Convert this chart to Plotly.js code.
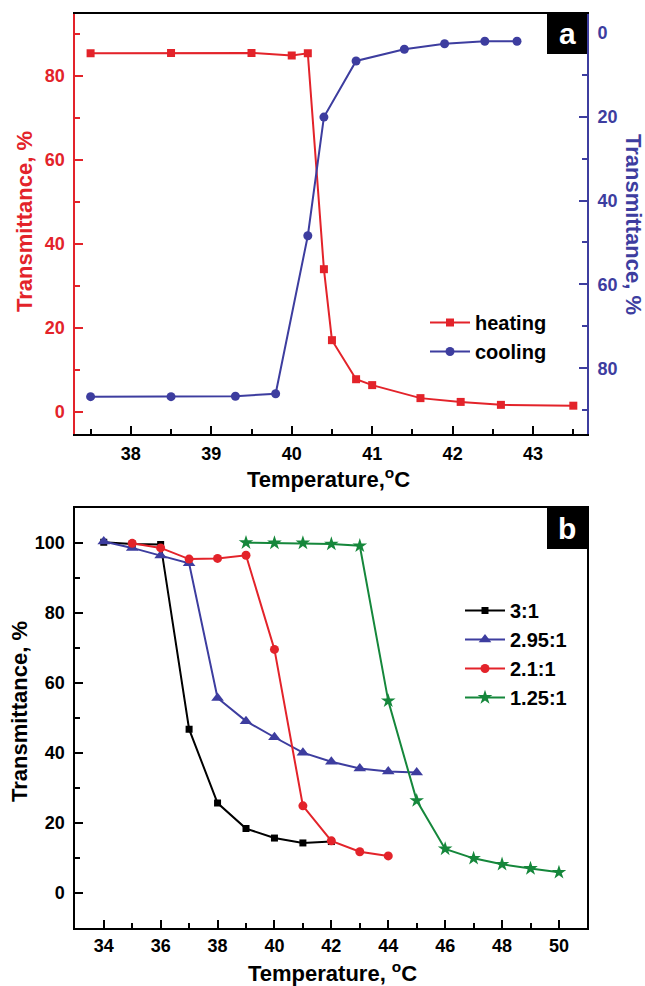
<!DOCTYPE html>
<html>
<head>
<meta charset="utf-8">
<script src="https://cdn.plot.ly/plotly-3.0.1.min.js"></script>
<style>html,body{margin:0;padding:0;background:#fff;}#chart{width:645px;height:986px;}</style>
</head>
<body>
<div id="chart"></div>
<script>
// ---- Panel a data ----
const heatTemp = [37.5, 38.5, 39.5, 40.0, 40.2, 40.4, 40.5, 40.8, 41.0, 41.6, 42.1, 42.6, 43.5];
const heatTrans = [85.4, 85.5, 85.5, 84.9, 85.4, 34.0, 17.1, 7.8, 6.4, 3.3, 2.4, 1.7, 1.5];
const coolTemp = [37.5, 38.5, 39.3, 39.8, 40.2, 40.4, 40.8, 41.4, 41.9, 42.4, 42.8];
const coolTrans = [86.8, 86.8, 86.7, 86.1, 48.4, 20.1, 6.7, 3.9, 2.6, 2.0, 2.0];

// ---- Panel b data ----
const temp31 = [34, 35, 36, 37, 38, 39, 40, 41, 42];
const trans31 = [100.2, 99.7, 99.6, 46.8, 25.7, 18.4, 15.7, 14.3, 14.7];
const temp295 = [34, 35, 36, 37, 38, 39, 40, 41, 42, 43, 44, 45];
const trans295 = [100.4, 98.6, 96.4, 94.2, 55.7, 49.1, 44.5, 40.1, 37.5, 35.6, 34.7, 34.4];
const temp21 = [35, 36, 37, 38, 39, 40, 41, 42, 43, 44];
const trans21 = [99.9, 98.6, 95.4, 95.6, 96.5, 69.6, 24.9, 14.9, 11.8, 10.6];
const temp125 = [39, 40, 41, 42, 43, 44, 45, 46, 47, 48, 49, 50];
const trans125 = [100.1, 100.0, 100.0, 99.7, 99.2, 54.9, 26.4, 12.6, 9.9, 8.2, 7.0, 5.9];

const seriesNamesA = ['heating', 'cooling'];
const seriesNamesB = ['3:1', '2.95:1', '2.1:1', '1.25:1'];

const RED = '#e3232a', BLUE = '#3d3d9f', GREEN = '#15873b', BLACK = '#000000';
const FONT = 'Liberation Sans, Arial, Helvetica, sans-serif';
const W = 645, H = 986;
const px = v => v / W;
const py = v => 1 - v / H;

const traces = [
  {x: heatTemp, y: heatTrans, name: seriesNamesA[0], xaxis: 'x', yaxis: 'y', legend: 'legend',
   mode: 'lines+markers', line: {color: RED, width: 2}, marker: {symbol: 'square', size: 8, color: RED}},
  {x: coolTemp, y: coolTrans, name: seriesNamesA[1], xaxis: 'x', yaxis: 'y2', legend: 'legend',
   mode: 'lines+markers', line: {color: BLUE, width: 2}, marker: {symbol: 'circle', size: 9, color: BLUE}},
  {x: temp31, y: trans31, name: seriesNamesB[0], xaxis: 'x2', yaxis: 'y3', legend: 'legend2',
   mode: 'lines+markers', line: {color: BLACK, width: 2}, marker: {symbol: 'square', size: 7, color: BLACK}},
  {x: temp295, y: trans295, name: seriesNamesB[1], xaxis: 'x2', yaxis: 'y3', legend: 'legend2',
   mode: 'lines+markers', line: {color: BLUE, width: 2}, marker: {symbol: 'triangle-up', size: 11, color: BLUE}},
  {x: temp21, y: trans21, name: seriesNamesB[2], xaxis: 'x2', yaxis: 'y3', legend: 'legend2',
   mode: 'lines+markers', line: {color: RED, width: 2}, marker: {symbol: 'circle', size: 9, color: RED}},
  {x: temp125, y: trans125, name: seriesNamesB[3], xaxis: 'x2', yaxis: 'y3', legend: 'legend2',
   mode: 'lines+markers', line: {color: GREEN, width: 2}, marker: {symbol: 'star', size: 11, color: GREEN}}
];

const tickFont = c => ({family: FONT, size: 18, color: c, weight: 700});
const baseAxis = {
  showgrid: false, zeroline: false, showline: true, linewidth: 2,
  ticks: 'inside', ticklen: 8, tickwidth: 2, fixedrange: true
};

const layout = {
  width: W, height: H,
  margin: {l: 0, r: 0, t: 0, b: 0},
  paper_bgcolor: '#fff', plot_bgcolor: '#fff',
  font: {family: FONT},
  showlegend: true,
  xaxis: Object.assign({}, baseAxis, {
    domain: [px(75.3), px(587)], anchor: 'y', range: [37.31, 43.67],
    tick0: 38, dtick: 1, linecolor: BLACK, tickcolor: BLACK, mirror: true,
    minor: {dtick: 0.5, ticks: 'inside', ticklen: 5, tickwidth: 2, tickcolor: BLACK},
    tickfont: tickFont(BLACK), ticklabelstandoff: 2
  }),
  yaxis: Object.assign({}, baseAxis, {
    domain: [py(434), py(14)], anchor: 'x', range: [-5.24, 94.76],
    tick0: 0, dtick: 20, linecolor: RED, tickcolor: RED,
    minor: {dtick: 10, ticks: 'inside', ticklen: 5, tickwidth: 2, tickcolor: RED},
    tickfont: tickFont(RED), ticklabelstandoff: 5
  }),
  yaxis2: Object.assign({}, baseAxis, {
    overlaying: 'y', side: 'right', anchor: 'x', range: [95.7, -4.5],
    tick0: 0, dtick: 20, linecolor: BLUE, tickcolor: BLUE,
    minor: {dtick: 10, ticks: 'inside', ticklen: 5, tickwidth: 2, tickcolor: BLUE},
    tickfont: tickFont(BLUE), ticklabelstandoff: 5
  }),
  xaxis2: Object.assign({}, baseAxis, {
    domain: [px(75.3), px(587.4)], anchor: 'y3', range: [33, 51],
    tick0: 34, dtick: 2, linecolor: BLACK, tickcolor: BLACK, mirror: true,
    minor: {dtick: 1, ticks: 'inside', ticklen: 5, tickwidth: 2, tickcolor: BLACK},
    tickfont: tickFont(BLACK), ticklabelstandoff: 0
  }),
  yaxis3: Object.assign({}, baseAxis, {
    domain: [py(928), py(508)], anchor: 'x2', range: [-10, 110],
    tick0: 0, dtick: 20, linecolor: BLACK, tickcolor: BLACK, mirror: true,
    minor: {dtick: 10, ticks: 'inside', ticklen: 5, tickwidth: 2, tickcolor: BLACK},
    tickfont: tickFont(BLACK), ticklabelstandoff: 5
  }),
  legend: {
    x: px(425), y: py(303), xanchor: 'left', yanchor: 'top',
    bgcolor: 'rgba(0,0,0,0)', borderwidth: 0, itemwidth: 40, tracegroupgap: 0,
    font: {family: FONT, size: 20, color: BLACK, weight: 700}
  },
  legend2: {
    x: px(460), y: py(591), xanchor: 'left', yanchor: 'top',
    bgcolor: 'rgba(0,0,0,0)', borderwidth: 0, itemwidth: 40, tracegroupgap: 0,
    font: {family: FONT, size: 20, color: BLACK, weight: 700}
  },
  shapes: [
    {type: 'rect', xref: 'paper', yref: 'paper', x0: px(547), x1: px(587), y0: py(54), y1: py(14),
     fillcolor: BLACK, line: {width: 0}},
    {type: 'rect', xref: 'paper', yref: 'paper', x0: px(547), x1: px(587.4), y0: py(549), y1: py(508),
     fillcolor: BLACK, line: {width: 0}}
  ],
  annotations: [
    {text: 'a', xref: 'paper', yref: 'paper', x: px(567), y: py(33), xanchor: 'center', yanchor: 'middle',
     showarrow: false, font: {family: FONT, size: 30, color: '#fff', weight: 700}},
    {text: 'b', xref: 'paper', yref: 'paper', x: px(567), y: py(528), xanchor: 'center', yanchor: 'middle',
     showarrow: false, font: {family: FONT, size: 30, color: '#fff', weight: 700}},
    {text: 'Transmittance, %', xref: 'paper', yref: 'paper', x: px(24), y: py(222), textangle: -90,
     xanchor: 'center', yanchor: 'middle', showarrow: false, font: {family: FONT, size: 22, color: RED, weight: 700}},
    {text: 'Transmittance, %', xref: 'paper', yref: 'paper', x: px(634), y: py(224), textangle: 90,
     xanchor: 'center', yanchor: 'middle', showarrow: false, font: {family: FONT, size: 22, color: BLUE, weight: 700}},
    {text: 'Temperature,<sup>o</sup>C', xref: 'paper', yref: 'paper', x: px(329), y: py(478),
     xanchor: 'center', yanchor: 'middle', showarrow: false, font: {family: FONT, size: 22, color: BLACK, weight: 700}},
    {text: 'Transmittance, %', xref: 'paper', yref: 'paper', x: px(19), y: py(712), textangle: -90,
     xanchor: 'center', yanchor: 'middle', showarrow: false, font: {family: FONT, size: 22, color: BLACK, weight: 700}},
    {text: 'Temperature, <sup>o</sup>C', xref: 'paper', yref: 'paper', x: px(332), y: -0.002,
     xanchor: 'center', yanchor: 'bottom', showarrow: false, font: {family: FONT, size: 22, color: BLACK, weight: 700}}
  ]
};

Plotly.newPlot('chart', traces, layout, {displayModeBar: false, staticPlot: true});
</script>
</body>
</html>
